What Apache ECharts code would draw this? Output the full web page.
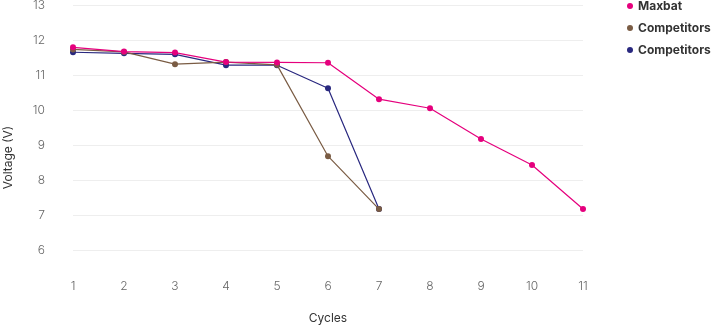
<!DOCTYPE html>
<html>
<head>
<meta charset="utf-8">
<script src="https://cdn.jsdelivr.net/npm/echarts@6/dist/echarts.min.js"></script>
<style>
html,body{margin:0;padding:0;background:#fff;}
#chart{width:711px;height:325px;}
</style>
</head>
<body>
<div id="chart"></div>
<script>
const cycles = [1,2,3,4,5,6,7,8,9,10,11];
const maxbat = [11.79, 11.67, 11.64, 11.37, 11.36, 11.35, 10.31, 10.05, 9.17, 8.43, 7.17];
const competitorsA = [11.73, 11.66, 11.31, 11.37, 11.29, 8.68, 7.17];
const competitorsB = [11.65, 11.62, 11.59, 11.28, 11.28, 10.62, 7.17];
const seriesNames = ['Maxbat', 'Competitors', 'Competitors'];
const yTicks = [6, 7, 8, 9, 10, 11, 12, 13];

const colors = ['#e5007d', '#7a5c44', '#29287f'];
const pair = (vals) => vals.map((v, i) => [cycles[i], v]);
const ids = ['s0', 's1', 's2'];
const datasets = [maxbat, competitorsA, competitorsB];

const chart = echarts.init(document.getElementById('chart'));
chart.setOption({
  animation: false,
  textStyle: { fontFamily: 'Inter, Roboto, sans-serif' },
  grid: { left: 73, right: 128, top: 5, bottom: 75, outerBoundsMode: 'none', containLabel: false },
  legend: {
    orient: 'vertical',
    left: 622, top: -5,
    itemGap: 10,
    itemWidth: 6, itemHeight: 6,
    icon: 'circle',
    data: ids,
    formatter: (n) => seriesNames[ids.indexOf(n)],
    textStyle: { fontSize: 12, fontWeight: 'bold', color: '#333' }
  },
  xAxis: {
    type: 'value', min: 1, max: 11, interval: 1,
    name: 'Cycles', nameLocation: 'middle', nameGap: 62,
    nameTextStyle: { fontSize: 12, color: '#333' },
    axisLine: { show: false }, axisTick: { show: false },
    splitLine: { show: false },
    axisLabel: { margin: 30, fontSize: 12, color: '#666', fontWeight: 300 }
  },
  yAxis: {
    type: 'value', min: yTicks[0], max: yTicks[yTicks.length - 1], interval: 1,
    name: 'Voltage (V)', nameLocation: 'middle', nameGap: 59,
    nameTextStyle: { fontSize: 12, color: '#333', padding: [0, 60, 0, 0] },
    axisLine: { show: false }, axisTick: { show: false },
    splitLine: { lineStyle: { color: '#eeeeee', width: 1 } },
    axisLabel: { margin: 28, fontSize: 12, color: '#666', fontWeight: 300 }
  },
  series: datasets.map((d, i) => ({
    id: ids[i], name: ids[i], type: 'line',
    data: pair(d),
    symbol: 'circle', symbolSize: 6,
    itemStyle: { color: colors[i] },
    lineStyle: { color: colors[i], width: 1.2 },
    z: 10 - i
  }))
});
</script>
</body>
</html>
